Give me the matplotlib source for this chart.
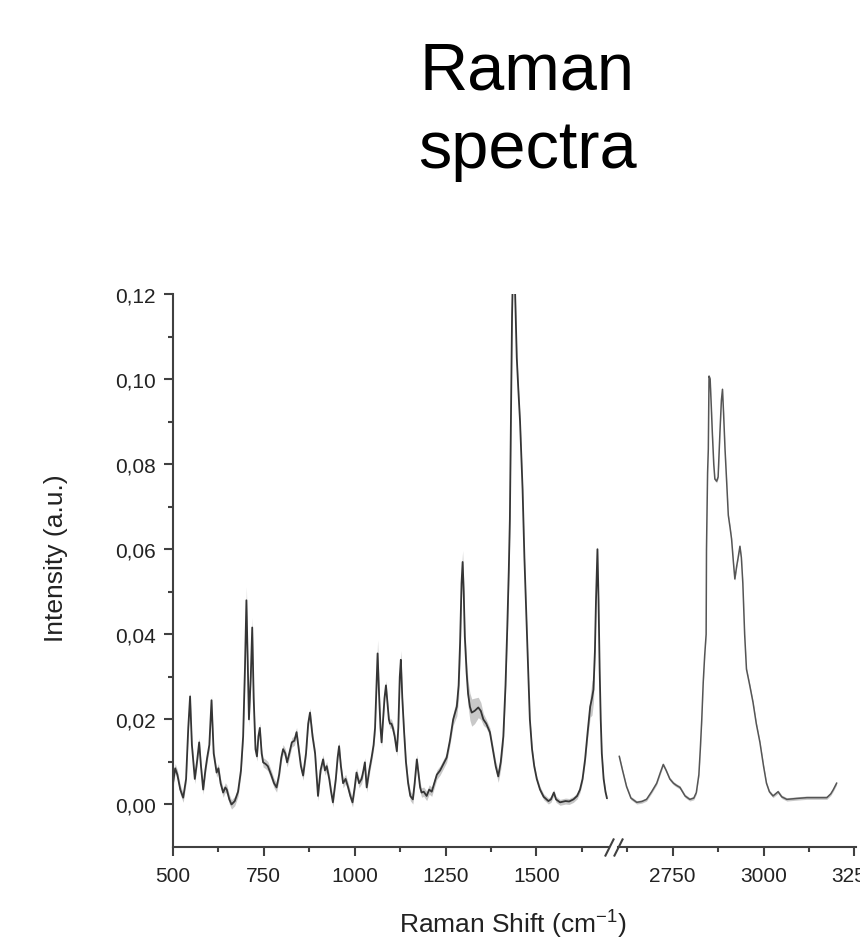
import matplotlib
matplotlib.use("Agg")
import matplotlib.pyplot as plt
from matplotlib.ticker import FixedLocator, FuncFormatter

plt.rcParams['font.family'] = ['Liberation Sans', 'DejaVu Sans']
plt.rcParams['mathtext.fontset'] = 'custom'
plt.rcParams['mathtext.rm'] = 'Liberation Sans'
plt.rcParams['mathtext.default'] = 'regular'

# ---- data: fingerprint region (500-1700 cm-1) ----
shift_low = [500, 506, 512, 520, 528, 536, 542, 547, 552, 560, 566, 572, 577, 583, 589, 594, 600, 606,
             612, 620, 625, 631, 638, 644, 648, 655, 661, 670, 679, 687, 693, 698, 702, 706, 709, 714,
             718, 722, 727, 731, 735, 739, 744, 748, 755, 761, 770, 778, 785, 792, 798, 803, 809, 814,
             820, 827, 834, 840, 846, 852, 858, 866, 872, 877, 884, 891, 895, 899, 906, 913, 918, 923,
             930, 935, 940, 948, 953, 957, 962, 968, 975, 982, 988, 994, 1000, 1005, 1012, 1019, 1024,
             1028, 1033, 1040, 1047, 1052, 1056, 1060, 1063, 1067, 1071, 1074, 1078, 1082, 1086, 1090,
             1094, 1097, 1101, 1105, 1110, 1116, 1120, 1124, 1127, 1131, 1136, 1141, 1147, 1153, 1160,
             1165, 1171, 1176, 1180, 1184, 1190, 1198, 1205, 1212, 1219, 1226, 1235, 1244, 1253, 1262,
             1271, 1281, 1286, 1290, 1294, 1297, 1300, 1303, 1308, 1312, 1317, 1322, 1330, 1340, 1347,
             1354, 1362, 1372, 1380, 1388, 1395, 1402, 1409, 1415, 1420, 1424, 1427, 1430, 1433, 1436,
             1440, 1443, 1446, 1450, 1455, 1462, 1467, 1472, 1478, 1482, 1488, 1494, 1501, 1510, 1520,
             1528, 1533, 1540, 1548, 1554, 1565, 1580, 1590, 1602, 1612, 1620, 1627, 1634, 1641, 1648,
             1653, 1657, 1661, 1664, 1668, 1671, 1674, 1677, 1680, 1685, 1690, 1694]
int_low = [0.0050, 0.0085, 0.0070, 0.0035, 0.0016, 0.0060, 0.0180, 0.0254, 0.0140, 0.0060, 0.0100,
           0.0146, 0.0090, 0.0035, 0.0080, 0.0110, 0.0140, 0.0245, 0.0120, 0.0075, 0.0085, 0.0050,
           0.0028, 0.0040, 0.0035, 0.0012, 0.0000, 0.0008, 0.0030, 0.0080, 0.0160, 0.0320, 0.0480,
           0.0320, 0.0200, 0.0300, 0.0416, 0.0250, 0.0130, 0.0113, 0.0160, 0.0180, 0.0120, 0.0099,
           0.0095, 0.0090, 0.0070, 0.0050, 0.0040, 0.0070, 0.0110, 0.0130, 0.0120, 0.0099, 0.0120,
           0.0146, 0.0150, 0.0170, 0.0130, 0.0090, 0.0068, 0.0120, 0.0190, 0.0216, 0.0160, 0.0120,
           0.0070, 0.0020, 0.0080, 0.0106, 0.0080, 0.0090, 0.0060, 0.0030, 0.0005, 0.0060, 0.0110,
           0.0137, 0.0090, 0.0050, 0.0060, 0.0040, 0.0020, 0.0005, 0.0040, 0.0075, 0.0050, 0.0060,
           0.0080, 0.0099, 0.0040, 0.0080, 0.0113, 0.0140, 0.0180, 0.0280, 0.0355, 0.0260, 0.0180,
           0.0146, 0.0200, 0.0250, 0.0280, 0.0240, 0.0200, 0.0190, 0.0190, 0.0180, 0.0160, 0.0125,
           0.0180, 0.0300, 0.0340, 0.0250, 0.0170, 0.0100, 0.0050, 0.0020, 0.0012, 0.0050, 0.0106,
           0.0070, 0.0040, 0.0028, 0.0030, 0.0020, 0.0035, 0.0030, 0.0050, 0.0070, 0.0080, 0.0095,
           0.0110, 0.0150, 0.0200, 0.0230, 0.0280, 0.0380, 0.0520, 0.0570, 0.0500, 0.0395, 0.0310,
           0.0260, 0.0230, 0.0216, 0.0220, 0.0228, 0.0220, 0.0200, 0.0190, 0.0170, 0.0130, 0.0090,
           0.0066, 0.0100, 0.0160, 0.0280, 0.0420, 0.0550, 0.0670, 0.0900, 0.1150, 0.1280, 0.1250,
           0.1150, 0.1050, 0.0980, 0.0900, 0.0740, 0.0580, 0.0450, 0.0300, 0.0200, 0.0130, 0.0090,
           0.0060, 0.0035, 0.0018, 0.0012, 0.0008, 0.0012, 0.0028, 0.0012, 0.0005, 0.0008, 0.0007,
           0.0012, 0.0020, 0.0035, 0.0060, 0.0106, 0.0170, 0.0230, 0.0250, 0.0270, 0.0360, 0.0480,
           0.0600, 0.0480, 0.0320, 0.0200, 0.0120, 0.0060, 0.0030, 0.0015]
sd_low = [0.0011] * 30 + [0.0014, 0.0022, 0.0032, 0.0022, 0.0017, 0.0017, 0.0024, 0.0017] + [0.0011] * 56 + \
         [0.0014, 0.0022, 0.0032, 0.0022, 0.0014] + [0.0011] * 12 + [0.0017, 0.0022, 0.0014] + [0.0011] * 20 + \
         [0.0014, 0.0022, 0.0032, 0.0042, 0.0032, 0.0027, 0.0022, 0.0024, 0.0027, 0.0030, 0.0032, 0.0032,
          0.0030, 0.0024, 0.0020, 0.0014, 0.0010, 0.0010, 0.0010, 0.0012, 0.0014, 0.0017, 0.0020, 0.0022,
          0.0027, 0.0032, 0.0032, 0.0027, 0.0022, 0.0020, 0.0017, 0.0014, 0.0012, 0.0012, 0.0010, 0.0010] + \
         [0.0007] * 21 + [0.0010, 0.0015, 0.0025, 0.0040, 0.0030, 0.0020, 0.0012, 0.0008, 0.0006, 0.0006, 0.0006]
sd_low = sd_low[:len(shift_low)] + [0.0006] * max(0, len(shift_low) - len(sd_low))

# ---- data: high-wavenumber region (2600-3250 cm-1) ----
shift_high = [2603, 2612, 2623, 2635, 2651, 2665, 2678, 2692, 2706, 2716, 2724, 2732, 2742, 2752, 2760,
              2770, 2784, 2797, 2808, 2815, 2822, 2826, 2830, 2834, 2838, 2842, 2843, 2846, 2848, 2850,
              2853, 2856, 2859, 2863, 2866, 2871, 2875, 2880, 2884, 2887, 2890, 2894, 2899, 2903, 2908,
              2912, 2917, 2921, 2926, 2930, 2935, 2939, 2943, 2948, 2953, 2962, 2971, 2980, 2990, 3000,
              3008, 3016, 3026, 3033, 3040, 3050, 3064, 3090, 3119, 3150, 3174, 3185, 3192, 3201]
int_high = [0.0113, 0.0080, 0.0042, 0.0015, 0.0005, 0.0007, 0.0012, 0.0030, 0.0050, 0.0075, 0.0094,
            0.0080, 0.0060, 0.0050, 0.0045, 0.0040, 0.0020, 0.0012, 0.0015, 0.0028, 0.0070, 0.0130,
            0.0200, 0.0287, 0.0350, 0.0400, 0.0600, 0.0780, 0.0835, 0.1007, 0.1000, 0.0940, 0.0875,
            0.0800, 0.0765, 0.0760, 0.0770, 0.0875, 0.0950, 0.0976, 0.0920, 0.0835, 0.0750, 0.0680,
            0.0650, 0.0624, 0.0570, 0.0530, 0.0560, 0.0580, 0.0607, 0.0580, 0.0520, 0.0400, 0.0318,
            0.0280, 0.0240, 0.0190, 0.0146, 0.0090, 0.0050, 0.0030, 0.0020, 0.0025, 0.0030, 0.0018,
            0.0012, 0.0014, 0.0016, 0.0016, 0.0016, 0.0025, 0.0035, 0.0050]
sd_high = [0.0004] * len(shift_high)

xticks_low = [500, 750, 1000, 1250, 1500]
xminor_low = [625, 875, 1125, 1375, 1625]
xticks_high = [2750, 3000, 3250]
xminor_high = [2625, 2875, 3125]
yticks = [0.00, 0.02, 0.04, 0.06, 0.08, 0.10, 0.12]
yminor = [0.01, 0.03, 0.05, 0.07, 0.09, 0.11]

W, H = 860, 953
fig = plt.figure(figsize=(W / 100, H / 100), dpi=100)

scale = 0.3634  # px per cm-1
x0, ybot, ytop = 173, 848, 295
lo_lim = (500, 1700)
hi_lim = (2600, 3255)
w1 = (lo_lim[1] - lo_lim[0]) * scale
w2 = (hi_lim[1] - hi_lim[0]) * scale
x2 = 672.7 - (2750 - hi_lim[0]) * scale
ax1 = fig.add_axes([x0 / W, (H - ybot) / H, w1 / W, (ybot - ytop) / H])
ax2 = fig.add_axes([x2 / W, (H - ybot) / H, w2 / W, (ybot - ytop) / H], sharey=ax1)

band_c = '#c8c8c8'
spine_c = '#404040'

for ax, xs, ys, sds, lc, lw in ((ax1, shift_low, int_low, sd_low, '#353535', 1.3),
                                (ax2, shift_high, int_high, sd_high, '#555555', 1.1)):
    lower = [y - s for y, s in zip(ys, sds)]
    upper = [y + s for y, s in zip(ys, sds)]
    ax.fill_between(xs, lower, upper, color=band_c, lw=0)
    ax.plot(xs, ys, color=lc, lw=lw)
    for side in ('top', 'right'):
        ax.spines[side].set_visible(False)
    ax.spines['bottom'].set_linewidth(1.5)
    ax.spines['bottom'].set_color(spine_c)
    ax.tick_params(axis='x', which='major', direction='out', length=6.5, width=1.5, color=spine_c,
                   labelsize=15, pad=7, labelcolor='#222222')
    ax.tick_params(axis='x', which='minor', direction='out', length=3.5, width=1.5, color=spine_c)

ax1.set_xlim(*lo_lim)
ax2.set_xlim(*hi_lim)
ax1.set_ylim(-0.01, 0.12)

ax1.xaxis.set_major_locator(FixedLocator(xticks_low))
ax1.xaxis.set_minor_locator(FixedLocator(xminor_low))
ax2.xaxis.set_major_locator(FixedLocator(xticks_high))
ax2.xaxis.set_minor_locator(FixedLocator(xminor_high))

ax1.yaxis.set_major_locator(FixedLocator(yticks))
ax1.yaxis.set_minor_locator(FixedLocator(yminor))
ax1.yaxis.set_major_formatter(FuncFormatter(lambda v, p: f"{v:.2f}".replace('.', ',')))
ax1.spines['left'].set_linewidth(1.5)
ax1.spines['left'].set_color(spine_c)
ax1.tick_params(axis='y', which='major', direction='out', length=6.5, width=1.5, color=spine_c,
                labelsize=15, pad=6, labelcolor='#222222')
ax1.tick_params(axis='y', which='minor', direction='out', length=3.5, width=1.5, color=spine_c)

ax2.spines['left'].set_visible(False)
ax2.tick_params(axis='y', which='both', left=False, labelleft=False)
for ax in (ax1, ax2):
    ax.patch.set_alpha(0)

# break marks
kw = dict(marker=[(-0.5, -1), (0.5, 1)], markersize=13, linestyle='none', color=spine_c,
          mec=spine_c, mew=1.5, clip_on=False)
ax1.plot([1], [0], transform=ax1.transAxes, **kw)
ax2.plot([0], [0], transform=ax2.transAxes, **kw)

ax1.set_ylabel('Intensity (a.u.)', fontsize=19, color='#222222')
ax1.yaxis.set_label_coords((68 - x0) / w1, (ybot - 558) / (ybot - ytop))

fig.text(513 / W, 1 - 925 / H, 'Raman Shift (cm$^{-1}$)', fontsize=19, color='#222222',
         ha='center', va='center')

fig.text(527 / W, 1 - 90 / H, 'Raman', fontsize=48, color='black', ha='center', va='baseline')
fig.text(527 / W, 1 - 168 / H, 'spectra', fontsize=48, color='black', ha='center', va='baseline')

fig.savefig('out.png', dpi=100)
